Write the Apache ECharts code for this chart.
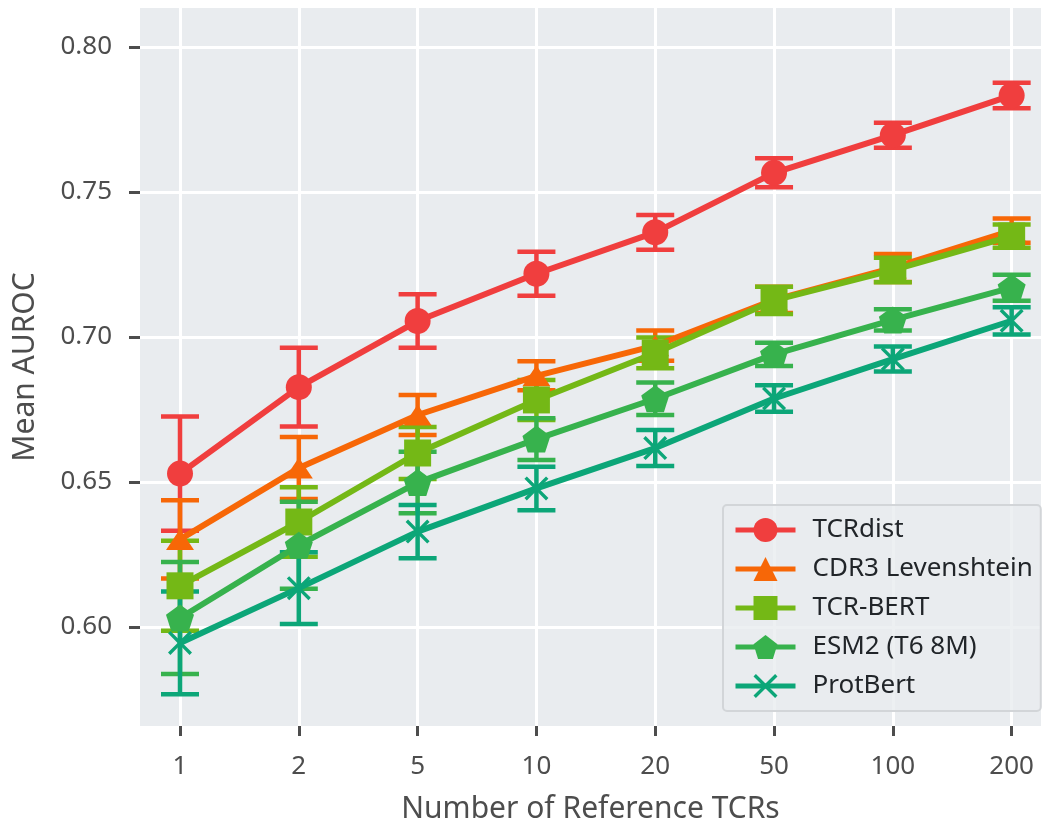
<!DOCTYPE html>
<html>
<head>
<meta charset="utf-8">
<script src="https://cdn.jsdelivr.net/npm/echarts@6/dist/echarts.min.js"></script>
<style>
  html, body { margin: 0; padding: 0; background: #fff; }
  #graph { width: 1043px; height: 824px; }
</style>
</head>
<body>
<div id="graph"></div>
<script>
// x categories (number of reference TCRs)
var refCounts = ['1', '2', '5', '10', '20', '50', '100', '200'];
var yTicks = [0.60, 0.65, 0.70, 0.75, 0.80];

var names = ['TCRdist', 'CDR3 Levenshtein', 'TCR-BERT', 'ESM2 (T6 8M)', 'ProtBert'];

// mean AUROC and half-width of error bars
var tcrdistMean = [0.6529, 0.6827, 0.7055, 0.7218, 0.7361, 0.7566, 0.7696, 0.7833];
var tcrdistErr  = [0.0197, 0.0136, 0.0092, 0.0076, 0.0060, 0.0050, 0.0043, 0.0044];
var levMean     = [0.6302, 0.6548, 0.6731, 0.6866, 0.6970, 0.7128, 0.7238, 0.7367];
var levErr      = [0.0135, 0.0107, 0.0069, 0.0050, 0.0052, 0.0045, 0.0048, 0.0042];
var bertMean    = [0.6142, 0.6362, 0.6600, 0.6783, 0.6945, 0.7126, 0.7231, 0.7348];
var bertErr     = [0.0155, 0.0120, 0.0090, 0.0069, 0.0053, 0.0047, 0.0042, 0.0040];
var esmMean     = [0.6031, 0.6282, 0.6498, 0.6648, 0.6787, 0.6940, 0.7059, 0.7170];
var esmErr      = [0.0193, 0.0150, 0.0106, 0.0072, 0.0056, 0.0040, 0.0037, 0.0045];
var protMean    = [0.5945, 0.6134, 0.6329, 0.6478, 0.6617, 0.6788, 0.6924, 0.7056];
var protErr     = [0.0177, 0.0124, 0.0092, 0.0075, 0.0062, 0.0046, 0.0043, 0.0047];

var means = [tcrdistMean, levMean, bertMean, esmMean, protMean];
var errs = [tcrdistErr, levErr, bertErr, esmErr, protErr];

var colors = ['#f03e3e', '#f76707', '#74b816', '#37b24d', '#0ca678'];
var pentagon = 'path://M0,-1 L0.951,-0.309 L0.588,0.809 L-0.588,0.809 L-0.951,-0.309 Z';
var cross = 'path://M0,1 L1,0 L5,4 L9,0 L10,1 L6,5 L10,9 L9,10 L5,6 L1,10 L0,9 L4,5 Z';
var symbols = ['circle', 'triangle', 'rect', pentagon, cross];
var symbolSizes = [26, [28, 21], 27, [28, 27], 24];

var font = '"Noto Sans", "Open Sans", sans-serif';
var textColor = '#4d4d4d';

function errRender(color) {
  return function (params, api) {
    var x = api.value(0);
    var top = api.coord([x, api.value(2)]);
    var bot = api.coord([x, api.value(1)]);
    var cap = 19;
    var st = { stroke: color, lineWidth: 4.5 };
    return {
      type: 'group',
      children: [
        { type: 'line', shape: { x1: top[0], y1: top[1], x2: bot[0], y2: bot[1] }, style: st },
        { type: 'line', shape: { x1: top[0] - cap, y1: top[1], x2: top[0] + cap, y2: top[1] }, style: st },
        { type: 'line', shape: { x1: bot[0] - cap, y1: bot[1], x2: bot[0] + cap, y2: bot[1] }, style: st }
      ]
    };
  };
}

var series = [];
for (var s = 0; s < names.length; s++) {
  var errData = [], lineData = [];
  for (var i = 0; i < refCounts.length; i++) {
    errData.push([i, means[s][i] - errs[s][i], means[s][i] + errs[s][i]]);
    lineData.push([i, means[s][i]]);
  }
  series.push({
    name: names[s] + ' err',
    type: 'custom',
    renderItem: errRender(colors[s]),
    data: errData,
    silent: true
  });
  series.push({
    name: names[s],
    type: 'line',
    data: lineData,
    color: colors[s],
    symbol: symbols[s],
    symbolSize: symbolSizes[s],
    lineStyle: { width: 6, color: colors[s] },
    itemStyle: { color: colors[s], borderWidth: 0 },
    emphasis: { disabled: true }
  });
}

var myChart = echarts.init(document.getElementById('graph'));
var option = {
  animation: false,
  textStyle: { fontFamily: font },
  grid: {
    left: 140, right: 2, top: 8, bottom: 98,
    outerBoundsMode: 'none',
    containLabel: false,
    show: true, backgroundColor: '#e9ecef', borderWidth: 0
  },
  legend: {
    data: names,
    orient: 'vertical',
    left: 723, top: 505,
    itemWidth: 60, itemHeight: 30, itemGap: 13,
    padding: [12, 8, 12, 10],
    lineStyle: { width: 5 },
    backgroundColor: 'rgba(233,236,239,0.8)',
    borderColor: '#d2d5d8', borderWidth: 2, borderRadius: 4,
    textStyle: { fontSize: 26, color: '#212529', fontFamily: font, padding: [0, 0, 0, 12] }
  },
  xAxis: {
    type: 'value',
    min: -0.3367, max: 7.247,
    name: 'Number of Reference TCRs',
    nameLocation: 'middle', nameGap: 68,
    nameTextStyle: { fontSize: 30, color: textColor, fontFamily: font },
    axisLine: { show: false, onZero: false },
    axisTick: { show: true, customValues: [0, 1, 2, 3, 4, 5, 6, 7], length: 10, lineStyle: { color: '#4d4d4d', width: 3 } },
    axisLabel: {
      customValues: [0, 1, 2, 3, 4, 5, 6, 7],
      fontSize: 26, color: textColor, margin: 28,
      formatter: function (v) { return refCounts[Math.round(v)]; }
    },
    splitLine: { show: true, lineStyle: { color: '#ffffff', width: 3 } }
  },
  yAxis: {
    type: 'value',
    min: 0.56586, max: 0.81345,
    name: 'Mean AUROC',
    nameLocation: 'middle', nameGap: 100,
    nameTextStyle: { fontSize: 30, color: textColor, fontFamily: font },
    axisLine: { show: false, onZero: false },
    axisTick: { show: true, customValues: yTicks, length: 11, lineStyle: { color: '#4d4d4d', width: 3 } },
    axisLabel: {
      customValues: yTicks,
      fontSize: 26, color: textColor, margin: 28,
      formatter: function (v) { return v.toFixed(2); }
    },
    splitLine: { show: true, lineStyle: { color: '#ffffff', width: 3 } }
  },
  series: series
};
myChart.setOption(option);
</script>
</body>
</html>
